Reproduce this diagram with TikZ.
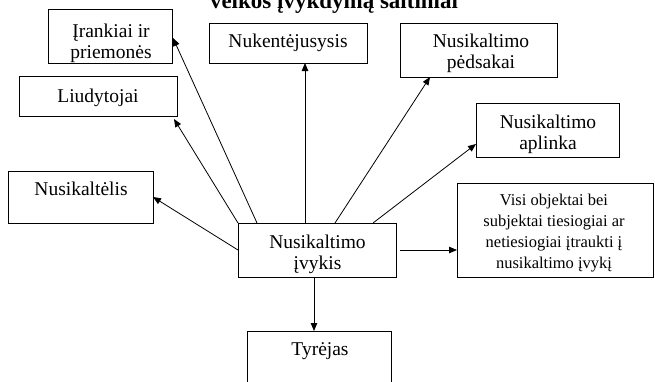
\documentclass[tikz,border=0pt]{standalone}
\usepackage{fontspec}
\setmainfont{Liberation Serif}
\usetikzlibrary{arrows.meta,calc}
\begin{document}
\begin{tikzpicture}[x=1pt,y=-1pt,
  box/.style={draw, line width=0.8pt, inner sep=0pt, outer sep=0pt, anchor=north west},
  txt/.style={inner sep=0pt, align=center, anchor=north, font=\fontsize{19.5}{21.5}\selectfont},
  smalltxt/.style={inner sep=0pt, align=center, anchor=north, font=\fontsize{16.5}{21}\selectfont},
  arr/.style={line width=0.8pt, -{Triangle[length=8pt,width=6.5pt]}},
  titletxt/.style={inner sep=0pt, anchor=base, font=\fontsize{23}{26}\selectfont\bfseries}]
\useasboundingbox (0,0) rectangle (655,381);
\clip (0,0) rectangle (655,381);

% title (cut at the top, as in the reference)
\node[titletxt] (title) at (334,8) {veikos įvykdymą šaltiniai};

% boxes
\node[box, minimum width=124, minimum height=54] (ira) at (48,9) {};
\node[box, minimum width=158, minimum height=40] (nuk) at (209,23) {};
\node[box, minimum width=157, minimum height=54] (ped) at (400,23) {};
\node[box, minimum width=158, minimum height=40] (liu) at (19,76) {};
\node[box, minimum width=143, minimum height=54] (apl) at (476,103) {};
\node[box, minimum width=145, minimum height=52] (nus) at (8,171) {};
\node[box, minimum width=196, minimum height=94] (visi) at (457,183) {};
\node[box, minimum width=158, minimum height=54] (ev) at (238,223) {};
\node[box, minimum width=144, minimum height=70] (tyr) at (247,331) {};

% texts
\begin{scope}
\clip (ira.south west) rectangle (ira.north east);
\node[txt] (iraT) at (111,22) {\strut Įrankiai ir\\\strut priemonės};
\end{scope}
\node[txt] (nukT) at (288,32) {\strut Nukentėjusysis};
\node[txt] (pedT) at (481,32) {\strut Nusikaltimo\\\strut pėdsakai};
\node[txt] (liuT) at (98,87) {\strut Liudytojai};
\node[txt] (aplT) at (548,113) {\strut Nusikaltimo\\\strut aplinka};
\node[txt] (nusT) at (81,180) {\strut Nusikaltėlis};
\node[smalltxt] (visiT) at (554,190.3) {\strut Visi objektai bei\\\strut subjektai tiesiogiai ar\\\strut netiesiogiai įtraukti į\\\strut nusikaltimo įvykį};
\begin{scope}
\clip (ev.south west) rectangle (ev.north east);
\node[txt] (evT) at (317.5,233) {\strut Nusikaltimo\\\strut įvykis};
\end{scope}
\node[txt] (tyrT) at (320,340) {\strut Tyrėjas};

% connectors
\draw[arr] (ev.north west) -- ($(liu.south east)+(-3,3)$);
\draw[arr] ($(ev.north west)+(19,0)$) -- ($(ira.east)+(1,2)$);
\draw[arr] ($(ev.north)+(-12,0)$) coordinate (s3) -- (s3 |- nuk.south);
\draw[arr] ($(ev.north west)+(97,0)$) -- ($(ped.south west)+(30,0)$);
\draw[arr] ($(ev.north west)+(135,0)$) -- ($(apl.south west)+(0,-13)$);
\draw[arr] (ev.west) -- (nus.east);
\draw[arr] ([xshift=4pt]ev.east) -- (ev.east -| visi.west);
\draw[arr] ($(ev.south)+(-3,0)$) coordinate (s8) -- (s8 |- tyr.north);
\end{tikzpicture}
\end{document}
